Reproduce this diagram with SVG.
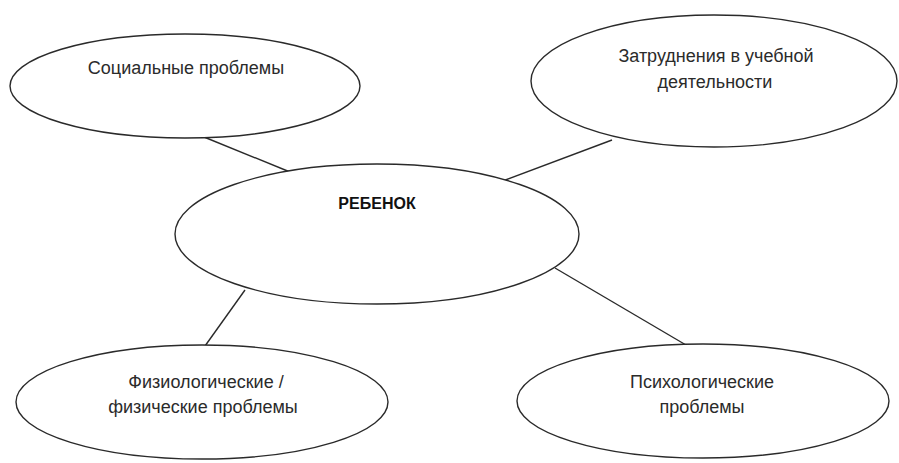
<svg xmlns="http://www.w3.org/2000/svg" width="899" height="463" viewBox="0 0 899 463">
<style>
.node ellipse{fill:#fff;stroke:#2a2a2a;stroke-width:1.4}
.lbl{font-family:"Liberation Sans",Arial,sans-serif;font-size:18px;fill:#2b2b2b;text-anchor:middle}
.bold{font-weight:bold;font-size:16px;fill:#111}
#connectors line{stroke:#2a2a2a;stroke-width:1.4}
</style>
<rect width="899" height="463" fill="#fff"/>
<g id="connectors">
<line x1="204" y1="137" x2="290" y2="172"/>
<line x1="612" y1="140" x2="500" y2="182"/>
<line x1="245" y1="290" x2="205" y2="346"/>
<line x1="555" y1="268" x2="686" y2="345"/>
</g>
<g id="social" class="node">
<ellipse cx="185" cy="86" rx="175" ry="52"/>
<text class="lbl" x="186" y="74">Социальные проблемы</text>
</g>
<g id="study" class="node">
<ellipse cx="714" cy="81" rx="183" ry="66"/>
<text class="lbl" x="716" y="62">Затруднения в учебной</text>
<text class="lbl" x="715" y="88">деятельности</text>
</g>
<g id="child" class="node">
<ellipse cx="377" cy="234" rx="202" ry="70"/>
<text class="lbl bold" x="377" y="209">РЕБЕНОК</text>
</g>
<g id="physio" class="node">
<ellipse cx="202" cy="402" rx="186" ry="57"/>
<text class="lbl" x="206" y="388">Физиологические /</text>
<text class="lbl" x="203" y="413">физические проблемы</text>
</g>
<g id="psycho" class="node">
<ellipse cx="703" cy="401" rx="186" ry="57"/>
<text class="lbl" x="702" y="388">Психологические</text>
<text class="lbl" x="702" y="413">проблемы</text>
</g>
</svg>
